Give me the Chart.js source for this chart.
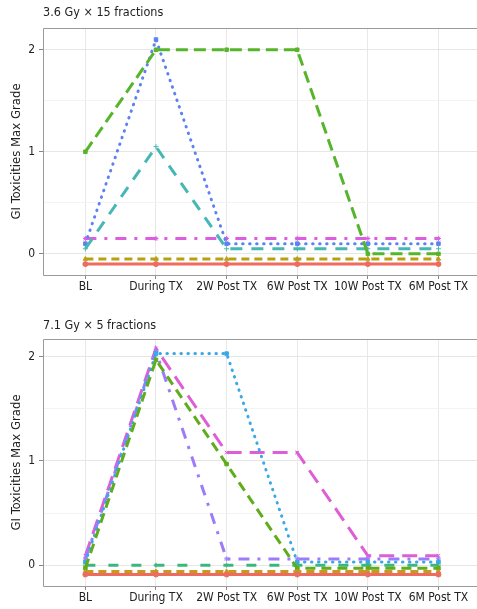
<!DOCTYPE html>
<html>
<head>
<meta charset="utf-8">
<script src="https://cdn.jsdelivr.net/npm/chart.js@4"></script>
<style>
  html, body { margin: 0; padding: 0; background: #fff; }
  .painel { width: 477px; overflow: hidden; position: relative; }
  canvas { display: block; }
</style>
</head>
<body>
<div class="painel"><canvas id="graf1" width="483" height="300"></canvas></div>
<div class="painel"><canvas id="graf2" width="483" height="309"></canvas></div>
<script>
/* Dados */

const tempos = ["BL", "During TX", "2W Post TX", "6W Post TX", "10W Post TX", "6M Post TX"];
const yTicks = [0, 0.5, 1, 1.5, 2];

// 3.6 Gy x 15 (linhas deslocadas como no original)
const a_vermelho = [-0.1, -0.1, -0.1, -0.1, -0.1, -0.1];
const a_oliva = [-0.05, -0.05, -0.05, -0.05, -0.05, -0.05];
const a_verde = [1, 2, 2, 2, 0, 0];
const a_ciano = [0.05, 1.05, 0.05, 0.05, 0.05, 0.05];
const a_azul = [0.1, 2.1, 0.1, 0.1, 0.1, 0.1];
const a_magenta = [0.15, 0.15, 0.15, 0.15, 0.15, 0.15];

// 7.1 Gy x 5
const b_vermelho = [-0.09, -0.09, -0.09, -0.09, -0.09, -0.09];
const b_oliva = [-0.06, -0.06, -0.06, -0.06, -0.06, -0.06];
const b_verdeLima = [-0.03, 1.97, 0.97, -0.03, -0.03, -0.03];
const b_verde = [0, 0, 0, 0, 0, 0];
const b_azul = [0.03, 2.03, 2.03, 0.03, 0.03, 0.03];
const b_roxo = [0.06, 2.05, 0.06, 0.06, 0.06, 0.06];
const b_rosa = [0.09, 2.08, 1.08, 1.08, 0.09, 0.09];

const fonte = "'DejaVu Sans Condensed', 'Liberation Sans Narrow', 'Liberation Sans', sans-serif";

function pontos(valores) {
  return valores.map((v, i) => ({ x: i, y: v }));
}

function serie(valores, cor, tracejado, estilo, redondo) {
  return {
    data: pontos(valores),
    borderColor: cor,
    backgroundColor: cor,
    borderWidth: 3,
    borderDash: tracejado,
    borderCapStyle: redondo ? "round" : "butt",
    pointStyle: estilo,
    pointRadius: 2.5,
    pointBorderWidth: 1,
    pointBorderColor: cor,
    pointBackgroundColor: cor,
    tension: 0,
  };
}

/* Moldura do painel (o lado direito fica cortado, como no original) */
const moldura = {
  id: "moldura",
  afterDraw(chart) {
    const { ctx, chartArea: a } = chart;
    ctx.save();
    ctx.strokeStyle = "#9a9a9a";
    ctx.lineWidth = 1;
    ctx.beginPath();
    ctx.moveTo(chart.width, a.top + 0.5);
    ctx.lineTo(a.left + 0.5, a.top + 0.5);
    ctx.lineTo(a.left + 0.5, a.bottom + 0.5);
    ctx.lineTo(chart.width, a.bottom + 0.5);
    ctx.stroke();
    ctx.restore();
  },
};

function config(titulo, series, ymin, ymax, tituloPad, alturaX) {
  return {
    type: "line",
    data: { datasets: series },
    plugins: [moldura],
    options: {
      responsive: false,
      animation: false,
      devicePixelRatio: 1,
      layout: { padding: 0 },
      plugins: {
        legend: { display: false },
        tooltip: { enabled: false },
        title: {
          display: true,
          text: titulo,
          align: "start",
          fullSize: false,
          color: "#222",
          font: { family: fonte, size: 12.5, weight: "normal" },
          padding: tituloPad,
        },
      },
      scales: {
        x: {
          type: "linear",
          min: -0.6,
          max: 5.56,
          afterBuildTicks: (s) => { s.ticks = tempos.map((t, i) => ({ value: i })); },
          afterFit: (s) => { s.height = alturaX; },
          ticks: {
            callback: (v) => tempos[v],
            color: "#222",
            padding: 1,
            maxRotation: 0,
            autoSkip: false,
            font: { family: fonte, size: 12 },
          },
          grid: { color: "#e8e8e8", tickColor: "#888", tickLength: 4 },
          border: { display: false },
        },
        y: {
          min: ymin,
          max: ymax,
          afterBuildTicks: (s) => { s.ticks = yTicks.map((v) => ({ value: v })); },
          afterFit: (s) => { s.width = 43; },
          ticks: {
            callback: (v) => (v % 1 === 0 ? v : ""),
            color: "#222",
            padding: 4,
            font: { family: fonte, size: 12 },
          },
          grid: {
            color: (c) => (c.tick && c.tick.value % 1 === 0 ? "#e6e6e6" : "#f3f3f3"),
            tickColor: (c) => (c.tick && c.tick.value % 1 === 0 ? "#888" : "rgba(0,0,0,0)"),
            tickLength: 4,
          },
          border: { display: false },
          title: {
            display: true,
            text: "GI Toxicities Max Grade",
            color: "#222",
            padding: { top: 9, bottom: 0 },
            font: { family: fonte, size: 13 },
          },
        },
      },
    },
  };
}

const seriesA = [
  serie(a_vermelho, "#ee6c5f", [], "circle"),
  serie(a_oliva, "#b9a012", [8, 5], "triangle"),
  serie(a_verde, "#57b52c", [12, 6], "rect"),
  serie(a_ciano, "#45b8b6", [12, 9], "cross"),
  serie(a_azul, "#5b82f2", [0.5, 6.5], "rect", true),
  serie(a_magenta, "#dd5ce0", [11, 8, 3, 8], "star"),
];

const seriesB = [
  serie(b_vermelho, "#ee6c5f", [], "circle"),
  serie(b_oliva, "#c69a1c", [8, 5], "triangle"),
  serie(b_verdeLima, "#5fad1c", [10, 6], "rect"),
  serie(b_verde, "#3cb67f", [10, 13], "cross"),
  serie(b_azul, "#3aa8e6", [0.5, 6.5], "rect", true),
  serie(b_roxo, "#9c7cf8", [11, 8, 3, 8], "star"),
  serie(b_rosa, "#de5ed6", [15, 8], "crossRot"),
];

new Chart(document.getElementById("graf1"),
  config("3.6 Gy \u00d7 15 fractions", seriesA, -0.207, 2.213, { top: 5, bottom: 8 }, 25));
new Chart(document.getElementById("graf2"),
  config("7.1 Gy \u00d7 5 fractions", seriesB, -0.2, 2.17, { top: 18, bottom: 6 }, 23));
</script>
</body>
</html>
